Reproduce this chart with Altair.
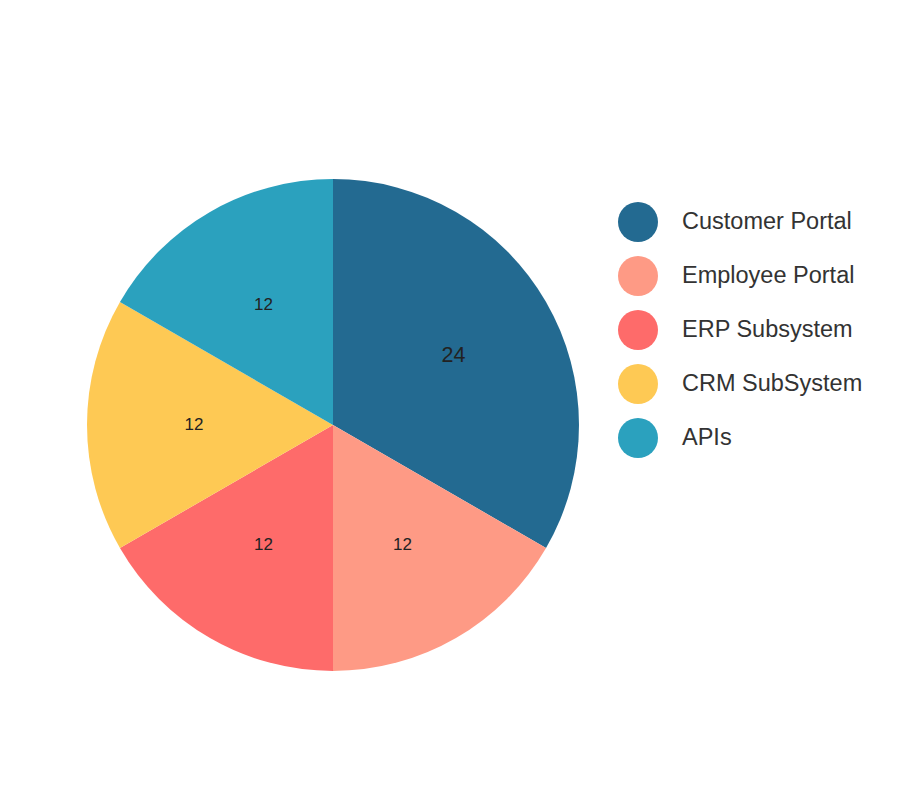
import altair as alt
import pandas as pd

categories = ["Customer Portal", "Employee Portal", "ERP Subsystem", "CRM SubSystem", "APIs"]
values = [24, 12, 12, 12, 12]
colors = ["#236A91", "#FE9A85", "#FE6B6A", "#FEC954", "#2BA1BE"]

df = pd.DataFrame({"category": categories, "value": values, "order": list(range(len(categories)))})

color = alt.Color(
    "category:N",
    scale=alt.Scale(domain=categories, range=colors),
    legend=alt.Legend(
        title=None,
        orient="none",
        legendX=618,
        legendY=202,
        symbolType="circle",
        symbolSize=1600,
        symbolStrokeWidth=0,
        labelFontSize=23.5,
        labelFont="Liberation Sans",
        labelColor="#333333",
        labelOffset=24,
        rowPadding=14,
        padding=0,
        labelLimit=400,
    ),
)

base = alt.Chart(df).encode(
    theta=alt.Theta("value:Q", stack=True),
    order=alt.Order("order:Q"),
)

pie = base.mark_arc(x=333, y=425, outerRadius=246).encode(color=color)

labels = base.mark_text(x=333, y=425, radius=139, font="Liberation Sans", color="#222222").encode(
    text=alt.Text("value:Q"),
    size=alt.condition(alt.datum.value > 12, alt.value(21.5), alt.value(17)),
)

chart = alt.layer(pie, labels).properties(
    width=908, height=786, autosize=alt.AutoSizeParams(type="none"), padding=0
).configure_view(stroke=None)

chart.save("out.html", embed_options={"renderer": "svg", "actions": False})
